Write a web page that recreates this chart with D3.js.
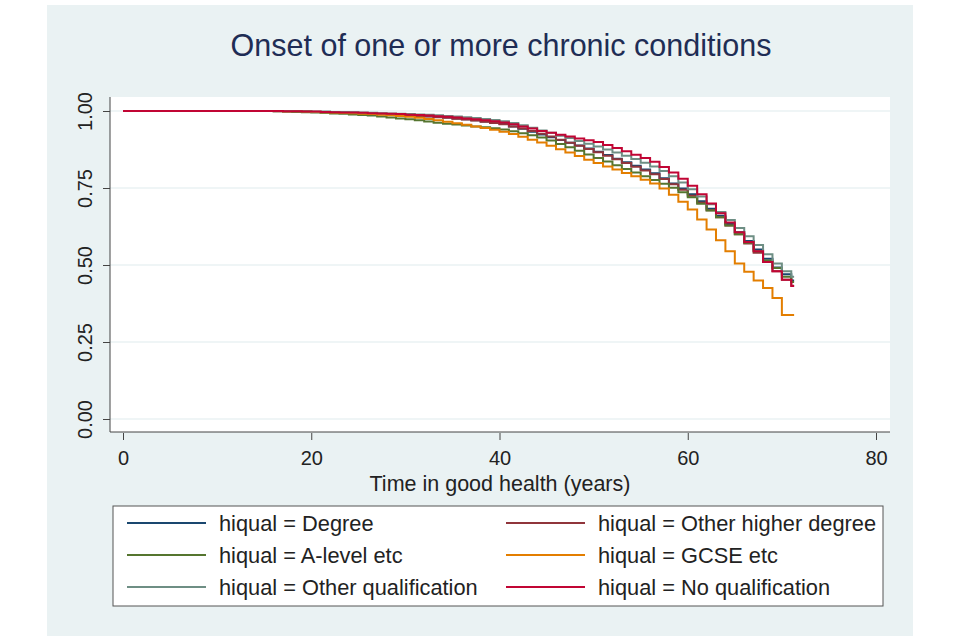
<!DOCTYPE html>
<html><head><meta charset="utf-8">
<script src="https://cdn.jsdelivr.net/npm/d3@7"></script>
<style>
body{margin:0;background:#fff}
svg{display:block}
text{font-family:"Liberation Sans",Arial,"DejaVu Sans",sans-serif}
</style>
</head><body>
<svg id="c" width="960" height="640"></svg>
<script>
// ---- data ----
const ages = [0,
  15,16,17,18,19,20,21,22,23,24,
  25,26,27,28,29,30,31,32,33,34,
  35,36,37,38,39,40,41,42,43,44,
  45,46,47,48,49,50,51,52,53,54,
  55,56,57,58,59,60,61,62,63,64,
  65,66,67,68,69,70,71];
const lastTime = 71.3;

const degree = [1,
  1.000,1.000,0.999,0.999,0.998,0.997,0.996,0.996,0.995,0.994,
  0.993,0.992,0.991,0.990,0.988,0.987,0.985,0.983,0.981,0.979,
  0.976,0.973,0.970,0.966,0.962,0.958,0.950,0.942,0.933,0.924,
  0.915,0.906,0.897,0.888,0.878,0.868,0.857,0.845,0.834,0.822,
  0.810,0.798,0.782,0.765,0.748,0.730,0.707,0.683,0.660,0.633,
  0.606,0.578,0.550,0.520,0.492,0.470,0.450];
const otherHigher = [1,
  1.000,0.999,0.999,0.998,0.998,0.997,0.996,0.995,0.994,0.993,
  0.992,0.991,0.990,0.989,0.987,0.986,0.984,0.982,0.980,0.978,
  0.975,0.972,0.969,0.965,0.961,0.957,0.950,0.943,0.935,0.926,
  0.917,0.907,0.897,0.887,0.877,0.866,0.855,0.843,0.831,0.819,
  0.807,0.795,0.779,0.762,0.744,0.725,0.702,0.678,0.655,0.628,
  0.600,0.570,0.540,0.510,0.480,0.452,0.433];
const aLevel = [1,
  1.000,0.999,0.998,0.997,0.996,0.995,0.994,0.992,0.991,0.989,
  0.987,0.985,0.982,0.979,0.976,0.973,0.970,0.966,0.962,0.959,
  0.956,0.953,0.950,0.947,0.944,0.940,0.934,0.928,0.921,0.914,
  0.904,0.893,0.882,0.871,0.859,0.847,0.836,0.824,0.812,0.800,
  0.788,0.776,0.764,0.751,0.736,0.720,0.699,0.677,0.655,0.628,
  0.600,0.572,0.545,0.515,0.490,0.462,0.445];
const gcse = [1,
  1.000,1.000,0.999,0.999,0.998,0.997,0.996,0.995,0.994,0.993,
  0.991,0.990,0.988,0.986,0.984,0.981,0.978,0.974,0.970,0.965,
  0.960,0.955,0.950,0.945,0.939,0.933,0.925,0.916,0.907,0.898,
  0.887,0.876,0.865,0.854,0.842,0.831,0.820,0.810,0.799,0.788,
  0.777,0.765,0.748,0.728,0.705,0.680,0.648,0.615,0.580,0.545,
  0.505,0.478,0.450,0.425,0.393,0.338,0.338];
const otherQual = [1,
  1.000,1.000,1.000,0.999,0.999,0.998,0.998,0.997,0.997,0.996,
  0.995,0.994,0.993,0.992,0.991,0.990,0.989,0.988,0.986,0.984,
  0.982,0.980,0.977,0.974,0.971,0.967,0.961,0.954,0.946,0.937,
  0.929,0.920,0.912,0.903,0.894,0.885,0.875,0.865,0.855,0.844,
  0.832,0.820,0.805,0.788,0.768,0.746,0.722,0.697,0.672,0.646,
  0.620,0.593,0.565,0.535,0.505,0.480,0.462];
const noQual = [1,
  1.000,1.000,0.999,0.999,0.998,0.998,0.997,0.996,0.995,0.995,
  0.994,0.993,0.992,0.991,0.990,0.988,0.987,0.985,0.983,0.981,
  0.979,0.976,0.973,0.970,0.967,0.963,0.957,0.950,0.943,0.935,
  0.929,0.923,0.917,0.911,0.905,0.899,0.890,0.880,0.869,0.858,
  0.847,0.835,0.818,0.800,0.780,0.757,0.730,0.700,0.668,0.638,
  0.606,0.575,0.545,0.510,0.480,0.452,0.432];

const seriesLabels = ["hiqual = Degree","hiqual = Other higher degree","hiqual = A-level etc",
  "hiqual = GCSE etc","hiqual = Other qualification","hiqual = No qualification"];
const seriesValues = [degree, otherHigher, aLevel, gcse, otherQual, noQual];
const seriesColors = ["#1a476f","#90353b","#55752f","#e37e00","#6e8e84","#c10534"];
const xTicks = [0,20,40,60,80];
const yTicks = [0,0.25,0.5,0.75,1];
const titleText = "Onset of one or more chronic conditions";
const xTitle = "Time in good health (years)";

// ---- drawing ----
const svg = d3.select("#c");
svg.append("rect").attr("x",47).attr("y",5).attr("width",866).attr("height",631).attr("fill","#eaf2f3");

const plot = {left:110, right:890, top:97, bottom:432};
svg.append("rect").attr("x",plot.left).attr("y",plot.top)
  .attr("width",plot.right-plot.left).attr("height",plot.bottom-plot.top).attr("fill","#fff");

const x = d3.scaleLinear().domain([0,80]).range([123,876]);
const y = d3.scaleLinear().domain([0,1]).range([419,111]);

// grid
svg.append("g").selectAll("line").data(yTicks).join("line")
  .attr("x1",plot.left).attr("x2",plot.right)
  .attr("y1",d=>y(d)).attr("y2",d=>y(d))
  .attr("stroke","#eaf2f3").attr("stroke-width",1.5);

// series
const line = d3.line().x(d=>x(d[0])).y(d=>y(d[1])).curve(d3.curveStepAfter);
const gS = svg.append("g");
seriesValues.forEach((vals,i)=>{
  const pts = ages.map((a,j)=>[a, vals[j]]);
  pts.push([lastTime, vals[vals.length-1]]);
  gS.append("path").datum(pts).attr("d",line)
    .attr("fill","none").attr("stroke",seriesColors[i]).attr("stroke-width",2)
    .attr("stroke-linejoin","miter");
});

// axes
const yAxis = svg.append("g").attr("transform",`translate(${plot.left},0)`)
  .call(d3.axisLeft(y).tickValues(yTicks).tickSize(7).tickFormat(d3.format(".2f")));
yAxis.select(".domain").attr("d",`M0,${plot.top}V${plot.bottom}`).attr("stroke","#444");
yAxis.selectAll(".tick line").attr("stroke","#444");
yAxis.selectAll(".tick text").attr("font-size",20).attr("fill","#222")
  .attr("text-anchor","middle").attr("x",0).attr("dy","0.35em")
  .attr("transform","translate(-25,0) rotate(-90)");

const xAxis = svg.append("g").attr("transform",`translate(0,${plot.bottom})`)
  .call(d3.axisBottom(x).tickValues(xTicks).tickSize(8).tickPadding(0).tickSizeOuter(0));
xAxis.select(".domain").attr("d",`M${plot.left},0H${plot.right}`).attr("stroke","#444");
xAxis.selectAll(".tick line").attr("stroke","#444").attr("y1",1);
xAxis.selectAll(".tick text").attr("font-size",20).attr("fill","#222").attr("y",26).attr("dy","0.35em");

svg.append("text").attr("x",500).attr("y",483).attr("dy","0.35em").attr("text-anchor","middle")
  .attr("font-size",21.5).attr("fill","#222").text(xTitle);

svg.append("text").attr("x",501).attr("y",45).attr("dy","0.35em").attr("text-anchor","middle")
  .attr("font-size",30.5).attr("fill","#1f2d55").text(titleText);

// legend
const lg = svg.append("g");
lg.append("rect").attr("x",113).attr("y",506).attr("width",770).attr("height",100)
  .attr("fill","#fff").attr("stroke","#555").attr("stroke-width",1);
const colX = [127, 506];
const rowY = [523, 555, 587];
seriesLabels.forEach((lab,i)=>{
  const cx = colX[i%2], cy = rowY[Math.floor(i/2)];
  lg.append("line").attr("x1",cx).attr("x2",cx+79).attr("y1",cy).attr("y2",cy)
    .attr("stroke",seriesColors[i]).attr("stroke-width",2);
  lg.append("text").attr("x",cx+92).attr("y",cy).attr("dy","0.35em")
    .attr("font-size",21.8).attr("fill","#222").text(lab);
});
</script>
</body></html>
